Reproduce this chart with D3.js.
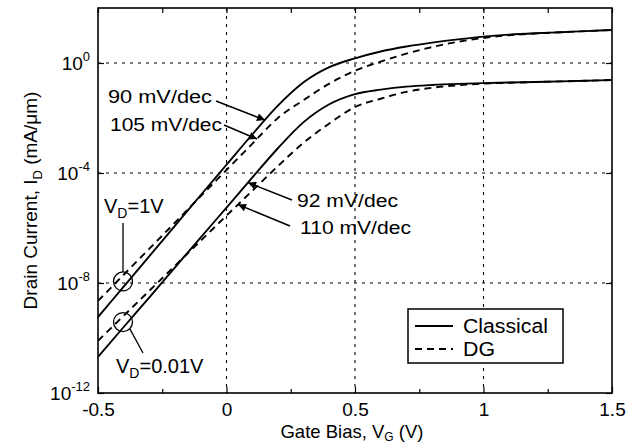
<!DOCTYPE html>
<html><head><meta charset="utf-8">
<script src="https://cdn.jsdelivr.net/npm/d3@7"></script>
<style>
html,body{margin:0;padding:0;background:#fff;}
svg text{font-family:"Liberation Sans",Arial,Helvetica,sans-serif;fill:#000;}
</style></head>
<body><svg id="c" width="637" height="445"></svg>
<script>
// ---- data (log10 of drain current, mA/um) ----
const vg = [-0.5,-0.4,-0.3,-0.2,-0.1,0.0,0.1,0.2,0.3,0.4,0.5,0.6,0.7,0.8,0.9,1.0,1.1,1.2,1.3,1.4,1.5];
const classicalVd1 = [-9.24,-8.13,-7.02,-5.91,-4.80,-3.70,-2.60,-1.55,-0.70,-0.15,0.17,0.42,0.60,0.74,0.86,0.96,1.03,1.08,1.12,1.16,1.20];
const dgVd1        = [-8.65,-7.70,-6.75,-5.80,-4.84,-3.89,-2.94,-2.00,-1.35,-0.75,-0.28,0.05,0.34,0.58,0.77,0.91,1.01,1.07,1.12,1.16,1.20];
const classicalVd001 = [-10.69,-9.60,-8.52,-7.43,-6.34,-5.26,-4.17,-3.10,-2.15,-1.50,-1.13,-0.97,-0.86,-0.80,-0.76,-0.73,-0.71,-0.69,-0.67,-0.645,-0.62];
const dgVd001        = [-10.10,-9.19,-8.28,-7.37,-6.46,-5.55,-4.65,-3.75,-2.90,-2.20,-1.60,-1.30,-1.05,-0.90,-0.81,-0.75,-0.72,-0.69,-0.67,-0.645,-0.62];
const xTicks = [-0.5,0,0.5,1,1.5];
const xMinor = [-0.25,0.25,0.75,1.25];
const yTicks = [1e-12,1e-8,1e-4,1e0];
const yTickExp = ["-12","-8","-4","0"];
const slopeLabels = ["90 mV/dec","105 mV/dec","92 mV/dec","110 mV/dec"];
const legendLabels = ["Classical","DG"];

const svg = d3.select("#c");
const L=98,R=612,T=8,B=393;
const x = d3.scaleLinear().domain([-0.5,1.5]).range([L,R]);
const y = d3.scaleLog().domain([1e-12,1e2]).range([B,T]);

// grid
const g = svg.append("g").attr("stroke","#000").attr("stroke-width",1.1).attr("stroke-dasharray","3,5");
[0,0.5,1].forEach(v=>g.append("line").attr("x1",x(v)).attr("x2",x(v)).attr("y1",T).attr("y2",B));
[1e-8,1e-4,1e0].forEach(v=>g.append("line").attr("x1",L).attr("x2",R).attr("y1",y(v)).attr("y2",y(v)));

// axes
const fmtX = d=> d===0?"0":(d===1?"1":String(d));
const ax = svg.append("g").attr("transform",`translate(0,${B})`)
  .call(d3.axisBottom(x).tickValues(xTicks).tickSizeInner(-6).tickSizeOuter(0).tickPadding(10).tickFormat(fmtX));
svg.append("g").attr("transform",`translate(0,${B})`)
  .call(d3.axisBottom(x).tickValues(xMinor).tickSizeInner(-4).tickSizeOuter(0).tickFormat(""));
svg.append("g").attr("transform",`translate(0,${T})`)
  .call(d3.axisTop(x).tickValues(xTicks.concat(xMinor)).tickSizeInner(-5).tickSizeOuter(0).tickFormat(""));
const ay = svg.append("g").attr("transform",`translate(${L},0)`)
  .call(d3.axisLeft(y).tickValues(yTicks).tickSizeInner(-6).tickSizeOuter(0).tickPadding(9).tickFormat(""));
svg.append("g").attr("transform",`translate(${R},0)`)
  .call(d3.axisRight(y).tickValues(yTicks).tickSizeInner(-6).tickSizeOuter(0).tickFormat(""));
svg.selectAll(".domain").remove();
svg.selectAll(".tick line").attr("stroke","#000").attr("stroke-width",1.2);
ax.selectAll("text").attr("font-size",19).attr("fill","#000").attr("font-family","Liberation Sans, Arial, sans-serif");
ay.selectAll(".tick").each(function(d,i){
  const t = d3.select(this).append("text").attr("x",-8).attr("y",6).attr("text-anchor","end")
    .attr("font-size",19).attr("fill","#000").attr("font-family","Liberation Sans, Arial, sans-serif");
  t.append("tspan").text("10");
  t.append("tspan").attr("dy",-9).attr("font-size",13).text(yTickExp[i]);
});
// frame
svg.append("rect").attr("x",L).attr("y",T).attr("width",R-L).attr("height",B-T)
  .attr("fill","none").attr("stroke","#000").attr("stroke-width",1.6);

// curves
const line = d3.line().x((d,i)=>x(vg[i])).y(d=>y(Math.pow(10,d))).curve(d3.curveMonotoneX);
const series = [
  {v:classicalVd1,dash:null},{v:dgVd1,dash:"7,5"},
  {v:classicalVd001,dash:null},{v:dgVd001,dash:"7,5"}];
svg.append("clipPath").attr("id","clip").append("rect").attr("x",L).attr("y",T).attr("width",R-L).attr("height",B-T);
const cg = svg.append("g").attr("clip-path","url(#clip)");
series.forEach(s=>{
  cg.append("path").attr("d",line(s.v)).attr("fill","none").attr("stroke","#000")
    .attr("stroke-width",1.9).attr("stroke-dasharray",s.dash);
});

// axis titles
const xt = svg.append("text").attr("x",352).attr("y",438).attr("text-anchor","middle").attr("font-size",18.5);
xt.append("tspan").text("Gate Bias, V");
xt.append("tspan").attr("dy",3).attr("font-size",12).text("G");
xt.append("tspan").attr("dy",-3).text(" (V)");
const yt = svg.append("text").attr("transform",`translate(37,${(T+B)/2}) rotate(-90)`).attr("text-anchor","middle").attr("font-size",19);
yt.append("tspan").text("Drain Current, I");
yt.append("tspan").attr("dy",5).attr("font-size",13).text("D");
yt.append("tspan").attr("dy",-5).text(" (mA/\u03bcm)");

// annotations
const defs = svg.append("defs");
defs.append("marker").attr("id","ah").attr("viewBox","0 0 10 10").attr("refX",10).attr("refY",5)
  .attr("markerWidth",12).attr("markerHeight",8).attr("markerUnits","userSpaceOnUse").attr("orient","auto")
  .append("path").attr("d","M0,0L10,5L0,10Z").attr("fill","#000");
const ann = [
  {t:slopeLabels[0],tx:108,ty:103,w:104,x1:216,y1:101,v:classicalVd1,px:265},
  {t:slopeLabels[1],tx:110,ty:131,w:112,x1:224,y1:125,v:dgVd1,px:257},
  {t:slopeLabels[2],tx:297,ty:207,w:101,x1:292,y1:200,v:classicalVd001,px:248},
  {t:slopeLabels[3],tx:300,ty:234,w:111,x1:290,y1:226,v:dgVd001,px:238}];
function yAt(arr,px){const v=x.invert(px);const i=d3.bisectRight(vg,v)-1;const f=(v-vg[i])/(vg[i+1]-vg[i]);return y(Math.pow(10,arr[i]+f*(arr[i+1]-arr[i])));}
ann.forEach(a=>{
  svg.append("text").attr("x",a.tx).attr("y",a.ty).attr("font-size",18)
    .attr("textLength",a.w).attr("lengthAdjust","spacingAndGlyphs").text(a.t);
  svg.append("line").attr("x1",a.x1).attr("y1",a.y1).attr("x2",a.px).attr("y2",yAt(a.v,a.px))
    .attr("stroke","#000").attr("stroke-width",1.5).attr("marker-end","url(#ah)");
});
// V_D labels with circles
const cx = 123;
const c1y = (yAt(classicalVd1,cx)+yAt(dgVd1,cx))/2, c2y=(yAt(classicalVd001,cx)+yAt(dgVd001,cx))/2;
[c1y,c2y].forEach(cy=>svg.append("circle").attr("cx",cx).attr("cy",cy).attr("r",9.5).attr("fill","none").attr("stroke","#000").attr("stroke-width",1.3));
svg.append("line").attr("x1",cx).attr("x2",cx).attr("y1",223).attr("y2",c1y-9.5).attr("stroke","#000").attr("stroke-width",1.3);
svg.append("line").attr("x1",cx+7).attr("y1",c2y+7).attr("x2",143).attr("y2",353).attr("stroke","#000").attr("stroke-width",1.3);
const v1 = svg.append("text").attr("x",104).attr("y",213).attr("font-size",20);
v1.append("tspan").text("V");v1.append("tspan").attr("dy",5).attr("font-size",14).text("D");v1.append("tspan").attr("dy",-5).text("=1V");
const v2 = svg.append("text").attr("x",116).attr("y",373).attr("font-size",20);
v2.append("tspan").text("V");v2.append("tspan").attr("dy",5).attr("font-size",14).text("D");v2.append("tspan").attr("dy",-5).text("=0.01V");

// legend
const lg = svg.append("g");
lg.append("rect").attr("x",408).attr("y",309).attr("width",155).attr("height",54).attr("fill","#fff").attr("stroke","#000").attr("stroke-width",1.5);
[[null,326,85],["7,5",349,32]].forEach((s,i)=>{
  lg.append("line").attr("x1",415).attr("x2",453).attr("y1",s[1]).attr("y2",s[1]).attr("stroke","#000").attr("stroke-width",1.8).attr("stroke-dasharray",s[0]);
  lg.append("text").attr("x",463).attr("y",s[1]+7).attr("font-size",20)
    .attr("textLength",s[2]).attr("lengthAdjust","spacingAndGlyphs").text(legendLabels[i]);
});
</script></body></html>
